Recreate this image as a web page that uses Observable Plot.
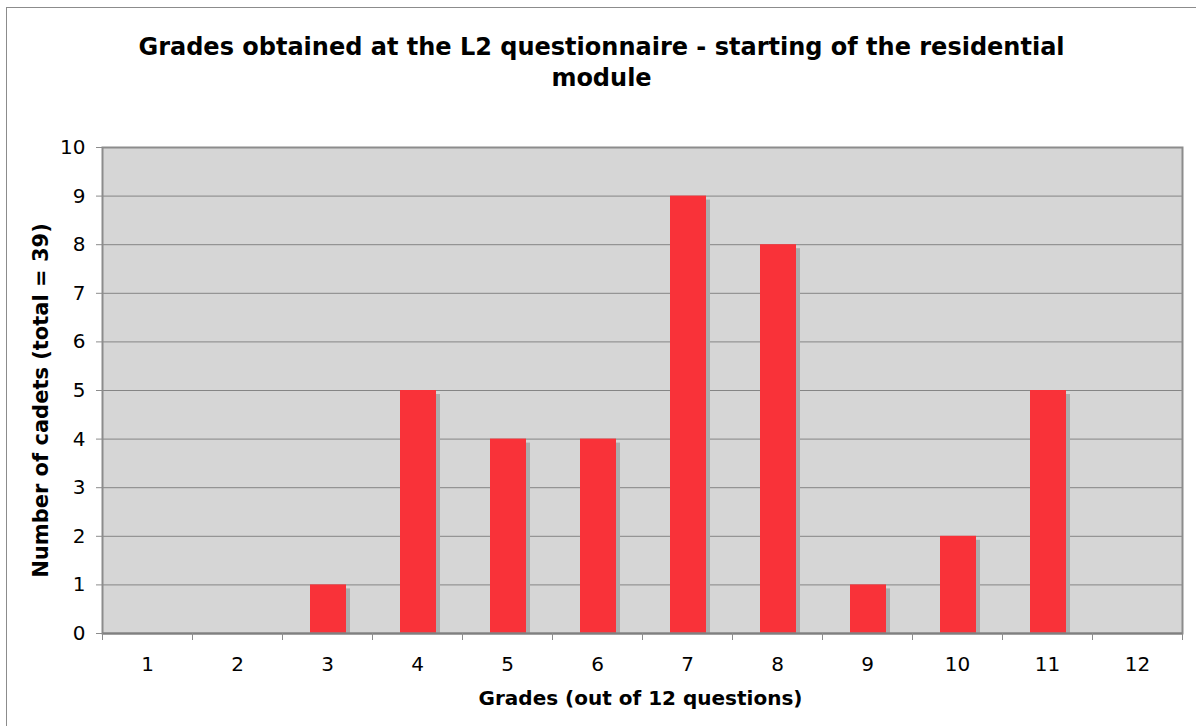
<!DOCTYPE html>
<html><head><meta charset="utf-8">
<script src="https://cdn.jsdelivr.net/npm/d3@7"></script>
<script src="https://cdn.jsdelivr.net/npm/@observablehq/plot@0.6"></script>
<style>
body{margin:0;background:#fff;overflow:hidden;font-family:"DejaVu Sans",Verdana,sans-serif}
#chart{position:absolute;left:0;top:0}
#frame{position:absolute;left:6px;top:7px;width:1250px;height:800px;border:1px solid #8c8c8c;pointer-events:none}
</style></head><body>
<div id="chart"></div>
<div id="frame"></div>
<script>
const grades = ["1","2","3","4","5","6","7","8","9","10","11","12"];
const counts = [0, 0, 1, 5, 4, 4, 9, 8, 1, 2, 5, 0];
const yTicks = [0, 1, 2, 3, 4, 5, 6, 7, 8, 9, 10];
const title = "Grades obtained at the L2 questionnaire - starting of the residential\nmodule";
const xLabel = "Grades (out of 12 questions)";
const yLabel = "Number of cadets (total = 39)";

const data = grades.map((g, i) => ({grade: g, count: counts[i]}));

const plot = Plot.plot({
  width: 1196, height: 726,
  marginLeft: 102, marginRight: 14, marginTop: 147, marginBottom: 93,
  style: {fontFamily: "'DejaVu Sans', Verdana, sans-serif", fontSize: "20px", color: "#000", background: "white"},
  x: {type: "band", domain: grades, padding: 0, label: null},
  y: {domain: [0, 10], label: null},
  marks: [
    Plot.frame({fill: "#d6d6d6", stroke: null}),
    Plot.gridY(yTicks, {stroke: "#858585", strokeOpacity: 1, strokeWidth: 1}),
    Plot.barY(data, {x: "grade", y: "count", fill: "#ababab", insetLeft: 27, insetRight: 27, dx: 5, dy: 4, clip: true}),
    Plot.barY(data, {x: "grade", y: "count", fill: "#f93239", insetLeft: 27, insetRight: 27, dx: 1}),
    Plot.frame({stroke: "#8c8c8c", strokeWidth: 2}),
    Plot.ruleY([0], {stroke: "#808080", strokeWidth: 2}),
    Plot.axisY({ticks: yTicks, tickSize: 6, tickPadding: 11, stroke: "#8c8c8c", fontSize: 20, label: null}),
    Plot.axisX({tickSize: 0, tickPadding: 23, fontSize: 20, label: null}),
    Plot.axisX({tickSize: 7, dx: -45, tickFormat: () => "", stroke: "#8c8c8c", label: null}),
    Plot.axisX(["12"], {tickSize: 7, dx: 45, tickFormat: () => "", stroke: "#8c8c8c", label: null}),
    Plot.text([title], {frameAnchor: "top", lineAnchor: "top", dx: -41, dy: -115, fontSize: 24, fontWeight: "bold", lineHeight: 1.3}),
    Plot.text([xLabel], {frameAnchor: "bottom", lineAnchor: "top", dx: -2, dy: 57, fontSize: 20, fontWeight: "bold"}),
    Plot.text([yLabel], {frameAnchor: "left", textAnchor: "middle", rotate: -90, dx: -61, dy: 10, fontSize: 21, fontWeight: "bold"})
  ]
});
document.getElementById("chart").append(plot);
</script>
</body></html>
